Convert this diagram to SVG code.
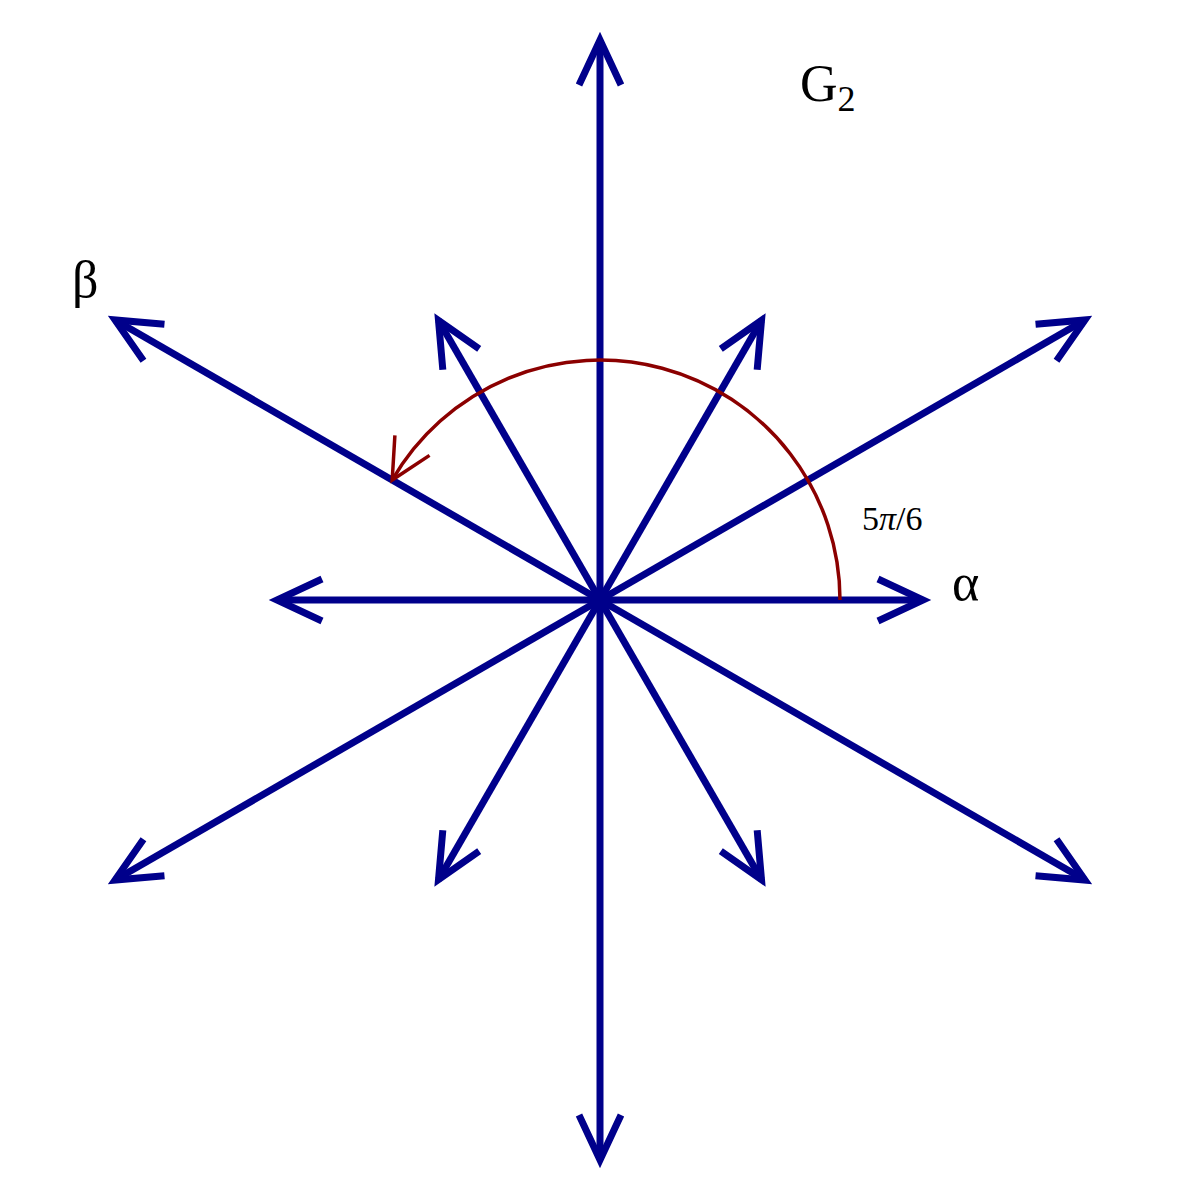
<svg xmlns="http://www.w3.org/2000/svg" width="1200" height="1200" viewBox="0 0 1200 1200">
<style>
.r{stroke:#00008b;stroke-width:7;fill:none}
.arc{stroke:#8b0000;stroke-width:3.5;fill:none}
text{font-family:"Liberation Serif","DejaVu Serif",serif;fill:#000}
</style>
<defs>
<marker id="ah" markerUnits="userSpaceOnUse" orient="auto" refX="0" refY="0" markerWidth="120" markerHeight="120" viewBox="-60 -60 120 120" overflow="visible">
<path d="M-45,-21 L0,0 L-45,21" stroke="#00008b" stroke-width="7" fill="none"/>
</marker>
<marker id="ahr" markerUnits="userSpaceOnUse" orient="auto" refX="0" refY="0" markerWidth="100" markerHeight="100" viewBox="-50 -50 100 100" overflow="visible">
<path d="M-40,-20 L0,0 L-40,20" stroke="#8b0000" stroke-width="3.5" fill="none"/>
</marker>
</defs>
<g id="connectors">
<line class="r" x1="600" y1="600" x2="923" y2="600" marker-end="url(#ah)"/>
<line class="r" x1="600" y1="600" x2="761.5" y2="320.3" marker-end="url(#ah)"/>
<line class="r" x1="600" y1="600" x2="438.5" y2="320.3" marker-end="url(#ah)"/>
<line class="r" x1="600" y1="600" x2="277" y2="600" marker-end="url(#ah)"/>
<line class="r" x1="600" y1="600" x2="438.5" y2="879.7" marker-end="url(#ah)"/>
<line class="r" x1="600" y1="600" x2="761.5" y2="879.7" marker-end="url(#ah)"/>
<line class="r" x1="600" y1="600" x2="1085" y2="320" marker-end="url(#ah)"/>
<line class="r" x1="600" y1="600" x2="600" y2="40" marker-end="url(#ah)"/>
<line class="r" x1="600" y1="600" x2="115" y2="320" marker-end="url(#ah)"/>
<line class="r" x1="600" y1="600" x2="115" y2="880" marker-end="url(#ah)"/>
<line class="r" x1="600" y1="600" x2="600" y2="1160" marker-end="url(#ah)"/>
<line class="r" x1="600" y1="600" x2="1085" y2="880" marker-end="url(#ah)"/>
<path class="arc" d="M840,600 A240,240 0 0 0 392.2,480" marker-end="url(#ahr)"/>
</g>
<g id="center"><circle cx="600" cy="600" r="9" fill="#00008b"/></g>
<g id="labels">
<text x="800" y="101" font-size="52">G<tspan font-size="36" dy="10">2</tspan></text>
<text x="72" y="297" font-size="52">β</text>
<text x="952" y="600" font-size="52">α</text>
<text x="862" y="530" font-size="34">5<tspan font-style="italic">π</tspan>/6</text>
</g>
</svg>
